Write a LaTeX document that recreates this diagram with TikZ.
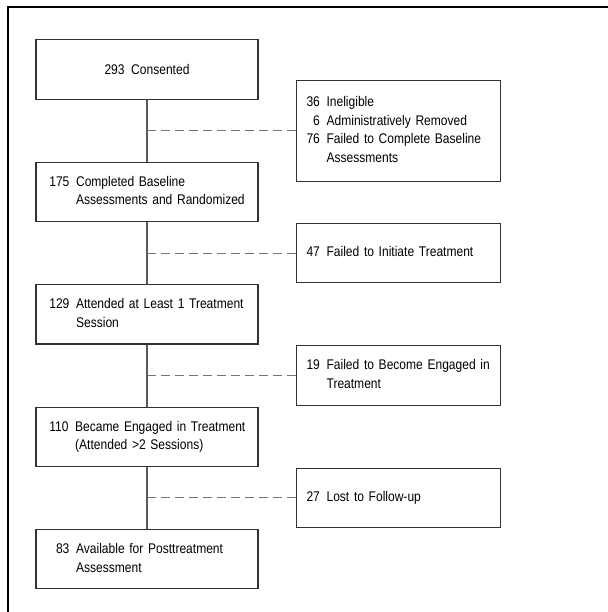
\documentclass[tikz,border=0pt]{standalone}
\usepackage{fontspec}
\setmainfont{Liberation Sans}[FakeStretch=0.86]
\usepackage{tikz}
\usetikzlibrary{positioning,calc}
\tikzset{
  mainbox/.style={
      rectangle, draw=black!80, line width=0.8pt,
      minimum width=166.5pt,
      minimum height=44.5pt,
      inner xsep=10pt,
      text width=146.5pt,
      align=left,
      font=\fontsize{10.5}{14}\selectfont,
    },
  sidebox/.style={
      rectangle, draw=black!80, line width=0.8pt,
      minimum width=153pt,
      minimum height=44.5pt,
      inner xsep=7.5pt,
      text width=138pt,
      align=left,
      font=\fontsize{10.5}{14}\selectfont,
    },
  flowline/.style={
      draw=black!65, line width=0.8pt,
    },
  dropline/.style={
      draw=black!55, line width=0.8pt,
      dash pattern=on 6.5pt off 4pt,
    },
}
\newcommand{\flowrows}[1]{\begin{tabular}{@{}r@{\hspace{5pt}}l@{}}#1\end{tabular}}

\begin{document}
\begin{tikzpicture}[x=0.75pt,y=-0.75pt]
      \useasboundingbox (0,0) rectangle (608,612);
      \draw[line width=1.1pt] (8,612) |- (608,7);
      \node[mainbox, align=center] (consented) at (147,69.5) {293\hspace{5pt}Consented};
      \node[mainbox, below=46.5pt of consented] (randomized) {\flowrows{175 & Completed Baseline\\ & Assessments and Randomized}};
      \node[mainbox, below=46.5pt of randomized] (attended) {\flowrows{129 & Attended at Least 1 Treatment\\ & Session}};
      \node[mainbox, below=46.5pt of attended] (engaged) {\flowrows{110 & Became Engaged in Treatment\\ & (Attended >2 Sessions)}};
      \node[mainbox, below=46.5pt of engaged] (available) {\flowrows{\hphantom{1}83 & Available for Posttreatment\\ & Assessment}};
      \coordinate (split_a) at ($(consented.south)!0.5!(randomized.north)$);
      \coordinate (split_b) at ($(randomized.south)!0.5!(attended.north)$);
      \coordinate (split_c) at ($(attended.south)!0.5!(engaged.north)$);
      \coordinate (split_d) at ($(engaged.south)!0.5!(available.north)$);
      \node[sidebox, right=111.75pt of split_a, minimum height=75.75pt] (excluded) {\flowrows{36 & Ineligible\\ 6 & Administratively Removed\\ 76 & Failed to Complete Baseline\\ & Assessments}};
      \node[sidebox, right=111.75pt of split_b] (notinit) {\flowrows{47 & Failed to Initiate Treatment}};
      \node[sidebox, right=111.75pt of split_c] (notengaged) {\flowrows{19 & Failed to Become Engaged in\\ & Treatment}};
      \node[sidebox, right=111.75pt of split_d] (lost) {\flowrows{27 & Lost to Follow-up}};
      \draw[flowline] (consented.south) -- (randomized.north);
      \draw[flowline] (randomized.south) -- (attended.north);
      \draw[flowline] (attended.south) -- (engaged.north);
      \draw[flowline] (engaged.south) -- (available.north);
      \draw[dropline] (split_a) -- (excluded.west);
      \draw[dropline] (split_b) -- (notinit.west);
      \draw[dropline] (split_c) -- (notengaged.west);
      \draw[dropline] (split_d) -- (lost.west);
    \end{tikzpicture}
\end{document}
